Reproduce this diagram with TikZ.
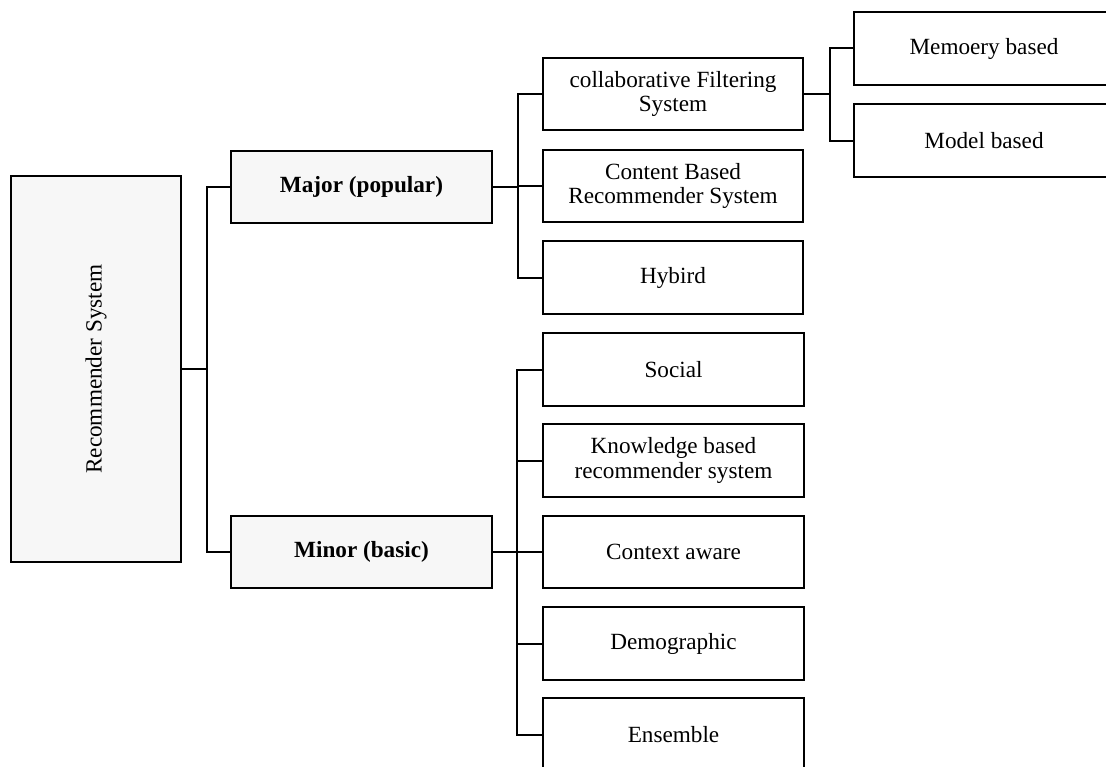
\documentclass[tikz,border=0pt]{standalone}
\usepackage{fontspec}
\setmainfont{Liberation Serif}
\definecolor{boxgray}{HTML}{F7F7F7}
\begin{document}
\begin{tikzpicture}[x=0.75pt,y=-0.75pt,
  box/.style={draw=black, line width=1.5pt, fill=white, inner sep=0pt, align=center,
    minimum width=195.5pt, minimum height=54.5pt, font=\fontsize{17.4}{18.5}\selectfont},
  graybox/.style={box, fill=boxgray, font=\fontsize{17.4}{18.5}\selectfont\bfseries},
  conn/.style={draw=black, line width=1.5pt}]
\useasboundingbox (0,0) rectangle (1106,767);

% root
\node[box, fill=boxgray, minimum width=127.5pt, minimum height=289.5pt] (root) at (96,369)
  {\rotatebox{90}{Recommender System}};

% level 1
\node[graybox] (major) at (361.5,187) {Major (popular)};
\node[graybox] (minor) at (361.5,552) {Minor (basic)};

% level 2 (major)
\node[box] (collab) at (673,94) {collaborative Filtering\\System};
\node[box] (content) at (673,186) {Content Based\\Recommender System};
\node[box] (hybrid) at (673,277.5) {Hybird};

% level 2 (minor)
\node[box] (social) at (673.5,369.5) {Social};
\node[box] (know) at (673.5,460.5) {Knowledge based\\recommender system};
\node[box] (context) at (673.5,552) {Context aware};
\node[box] (demo) at (673.5,643.5) {Demographic};
\node[box] (ens) at (673.5,734.5) {Ensemble};

% level 3
\node[box] (memory) at (984,48.5) {Memoery based};
\node[box] (model) at (984,140.5) {Model based};

% connectors: root
\coordinate (rb) at (207,369);
\draw[conn] (root.east) -- (rb);
\draw[conn] (major.west) -| (rb);
\draw[conn] (minor.west) -| (rb);

% connectors: major
\coordinate (mb) at (518,187);
\draw[conn] (major.east) -- (mb);
\draw[conn] (collab.west) -| (mb);
\draw[conn] (content.west) -| (mb);
\draw[conn] (hybrid.west) -| (mb);

% connectors: minor
\coordinate (nb) at (517,552);
\draw[conn] (minor.east) -- (nb);
\draw[conn] (social.west) -| (nb);
\draw[conn] (know.west) -| (nb);
\draw[conn] (context.west) -| (nb);
\draw[conn] (demo.west) -| (nb);
\draw[conn] (ens.west) -| (nb);

% connectors: collaborative
\coordinate (cb) at (830,94);
\draw[conn] (collab.east) -- (cb);
\draw[conn] (memory.west) -| (cb);
\draw[conn] (model.west) -| (cb);
\end{tikzpicture}
\end{document}
